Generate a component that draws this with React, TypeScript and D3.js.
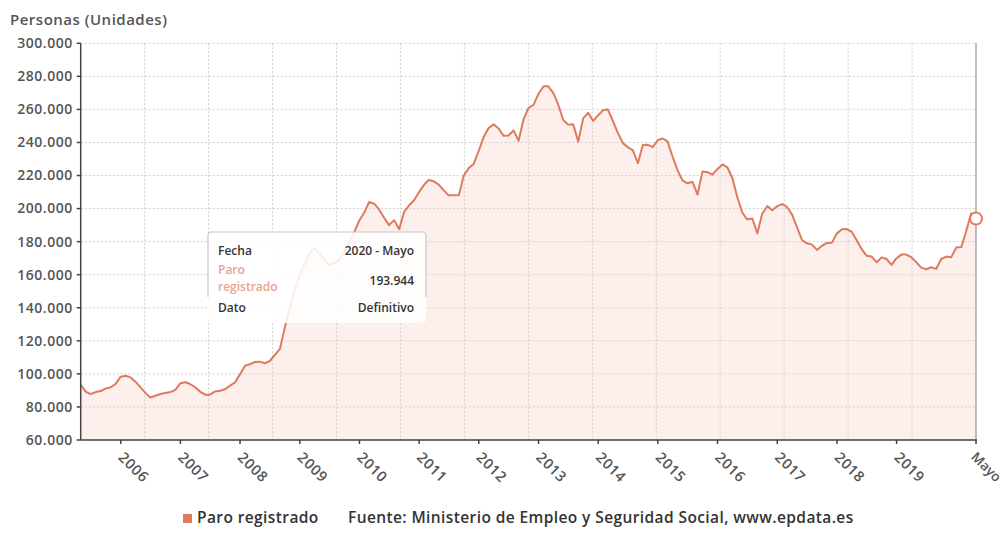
import { scaleTime, scaleLinear, line, area, range, formatLocale } from "d3";

// Paro registrado, thousands of people, monthly from May 2005 to May 2020
const startYear = 2005;
const startMonth = 4;
const values = [
  93.3, 89.3, 87.8, 89.0, 89.6, 91.2, 91.9, 94.0,
  98.3, 98.9, 97.9, 95.3, 92.0, 88.5, 85.7, 86.8, 87.8, 88.5, 89.0, 90.3,
  94.3, 94.9, 93.9, 91.9, 89.3, 87.4, 87.4, 89.4, 89.8, 90.7, 92.9, 94.8,
  99.8, 104.9, 105.8, 107.2, 107.4, 106.4, 107.8, 111.5, 115.0, 128, 140, 151,
  160, 167, 173, 176, 173, 169, 166, 167, 169, 174, 180, 186,
  193, 198, 204, 203, 199.5, 194.5, 190, 193, 187.5, 198, 202, 205,
  210, 214.5, 217.3, 216.5, 214.5, 211, 208, 208, 208, 220, 224.5, 227,
  235, 243.5, 248.7, 251, 248.5, 244, 244.2, 247.3, 241, 254, 261, 262.7,
  269.5, 274, 274, 270, 263, 253.6, 250.8, 251, 240.5, 254.6, 258, 253,
  256.5, 259.6, 260, 253, 245.8, 239.6, 237.2, 235.2, 227.5, 238.5, 238.6, 237.2,
  241.5, 242.4, 240.7, 231.5, 223.3, 217, 215.3, 216.2, 208.5, 222.5, 222, 220.5,
  224, 226.7, 225, 218.5, 207, 197.5, 193.5, 194, 185, 197, 201.5, 199,
  201.5, 202.7, 201, 196.5, 189, 181, 179, 178.2, 175, 177.5, 179.2, 179.4,
  185, 187.5, 187.6, 186, 181, 175.5, 171.5, 171, 167.5, 170.5, 169.5, 166,
  170, 172.3, 172.2, 170.6, 167.6, 164.3, 163.3, 164.5, 163.5, 169.5, 171, 170.5,
  176.5, 176.7, 186, 197, 193.944,
];
const yTicks = [60, 80, 100, 120, 140, 160, 180, 200, 220, 240, 260, 280, 300];
const yearTicks = [2006, 2007, 2008, 2009, 2010, 2011, 2012, 2013, 2014, 2015, 2016, 2017, 2018, 2019];
const lastTickLabel = "Mayo";
const gridColumns = 14;

const yTitle = "Personas (Unidades)";
const seriesName = "Paro registrado";
const source = "Fuente: Ministerio de Empleo y Seguridad Social, www.epdata.es";
const tipDate = "2020 - Mayo";
const tipValue = "193.944";
const tipStatus = "Definitivo";

const esFormat = formatLocale({
  decimal: ",",
  thousands: ".",
  grouping: [3],
  currency: ["", " €"],
}).format(",.0f");

const W = 1008;
const H = 533;
const margin = { top: 43.3, right: 32, bottom: 93, left: 80.7 };
const FONT = "'Open Sans', 'Noto Sans', sans-serif";
const ORANGE = "#e07a5f";

export default function App() {
  const data = values.map((v, i) => ({ date: new Date(startYear, startMonth + i, 1), value: v }));
  const x = scaleTime()
    .domain([data[0].date, data[data.length - 1].date])
    .range([margin.left, W - margin.right]);
  const y = scaleLinear().domain([60, 300]).range([H - margin.bottom, margin.top]);
  const gx = scaleLinear().domain([0, gridColumns]).range(x.range());

  const linePath = line<{ date: Date; value: number }>()
    .x((d) => x(d.date))
    .y((d) => y(d.value))(data) as string;
  const areaPath = area<{ date: Date; value: number }>()
    .x((d) => x(d.date))
    .y0(y(60))
    .y1((d) => y(d.value))(data) as string;

  const xTicks = [
    ...yearTicks.map((yr) => ({ pos: x(new Date(yr, 0, 1)), label: String(yr), last: false })),
    { pos: x(data[data.length - 1].date), label: lastTickLabel, last: true },
  ];
  const last = data[data.length - 1];
  const [x0, x1] = x.range();
  const yb = y(60);
  const yt = y(300);

  // tooltip box
  const tip = { left: 208, top: 232, right: 426, bottom: 323, borderEnd: 297 };

  return (
    <svg
      width={W}
      height={H}
      style={{ position: "absolute", left: 0, top: 0, background: "#fff" }}
      fontFamily={FONT}
    >
      <text x={10} y={25} fontSize={15} fill="#555" fontWeight={600} letterSpacing={0.5}>
        {yTitle}
      </text>

      <path d={areaPath} fill="#fdefeb" />

      {/* grid */}
      <g stroke="#cfcfcf" strokeDasharray="2,2" strokeWidth={1}>
        {yTicks.map((t) => (
          <line key={t} x1={x0} x2={x1} y1={y(t)} y2={y(t)} />
        ))}
        {range(1, gridColumns + 1).map((i) => (
          <line key={i} x1={gx(i)} x2={gx(i)} y1={yt} y2={yb} />
        ))}
      </g>

      {/* hover crosshair */}
      <line x1={x(last.date)} x2={x(last.date)} y1={yt} y2={yb} stroke="#8a8a8a" strokeWidth={1} />

      <path d={linePath} fill="none" stroke={ORANGE} strokeWidth={2} strokeLinejoin="round" />
      <circle cx={x(last.date)} cy={y(last.value)} r={6} fill="#fff" stroke={ORANGE} strokeWidth={2} />

      {/* y axis */}
      <line x1={x0} x2={x0} y1={yt} y2={yb} stroke="#444" strokeWidth={1.5} />
      {yTicks.map((t) => (
        <g key={t} transform={`translate(${x0},${y(t)})`}>
          <line x1={-4} x2={0} stroke="#444" strokeWidth={1.5} />
          <text x={-8} dy="0.35em" textAnchor="end" fontSize={14} fill="#555" fontWeight={600} letterSpacing={0.5}>
            {esFormat(t * 1000)}
          </text>
        </g>
      ))}

      {/* x axis */}
      <line x1={x0} x2={x1 + 1} y1={yb} y2={yb} stroke="#444" strokeWidth={1.5} />
      {xTicks.map((t) => (
        <g key={t.label} transform={`translate(${t.pos},${yb})`}>
          <line y1={0} y2={4} stroke="#444" strokeWidth={1.5} />
          <text
            transform={t.last ? "translate(2,10) rotate(45)" : "translate(5,10) rotate(45)"}
            dy="0.8em"
            fontSize={t.last ? 13.5 : 14.5}
            fill="#555"
            fontWeight={600}
            letterSpacing={t.last ? 0 : 0.6}
          >
            {t.label}
          </text>
        </g>
      ))}

      {/* tooltip */}
      <rect
        x={tip.left}
        y={tip.top}
        width={tip.right - tip.left}
        height={tip.bottom - tip.top}
        rx={4}
        fill="#fff"
        opacity={0.86}
      />
      <path
        d={`M${tip.left},${tip.borderEnd} V${tip.top + 4} Q${tip.left},${tip.top} ${tip.left + 4},${tip.top} H${tip.right - 4} Q${tip.right},${tip.top} ${tip.right},${tip.top + 4} V${tip.borderEnd}`}
        fill="none"
        stroke="#c8c8c8"
        strokeWidth={1.2}
      />
      <g fontSize={12} fontWeight={600}>
        <text x={218} y={255} fill="#333">Fecha</text>
        <text x={414} y={255} fill="#333" textAnchor="end">{tipDate}</text>
        <text x={218} y={274} fill="#e9a48e">Paro</text>
        <text x={218} y={291} fill="#e9a48e">registrado</text>
        <text x={414} y={285} fill="#333" textAnchor="end">{tipValue}</text>
        <text x={218} y={312} fill="#333">Dato</text>
        <text x={414} y={312} fill="#333" textAnchor="end">{tipStatus}</text>
      </g>

      {/* legend */}
      <rect x={183} y={514} width={9} height={9} fill={ORANGE} />
      <text x={197} y={523} fontSize={15.5} fill="#333" fontWeight={600} letterSpacing={0.4}>
        {seriesName}
      </text>
      <text x={348} y={523} fontSize={15.5} fill="#333" fontWeight={600} letterSpacing={0.4}>
        {source}
      </text>
    </svg>
  );
}
